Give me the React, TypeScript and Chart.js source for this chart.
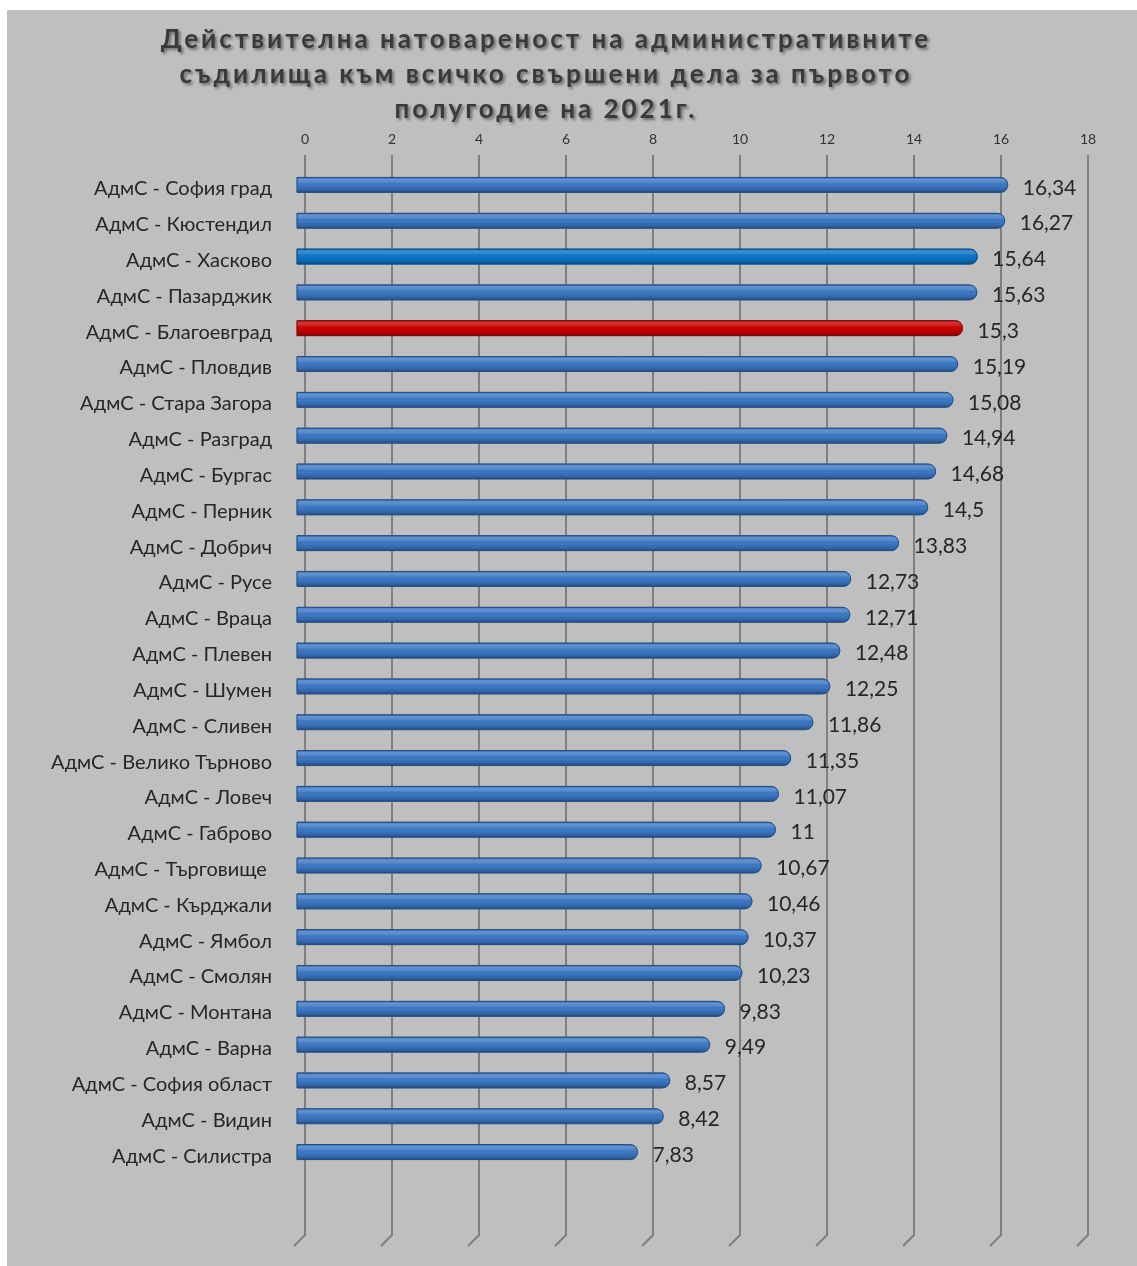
import React, { useEffect, useRef } from "react";
import { Chart, registerables } from "chart.js";

Chart.register(...registerables);

const categories: string[] = [
  "АдмС - София град",
  "АдмС - Кюстендил",
  "АдмС - Хасково",
  "АдмС - Пазарджик",
  "АдмС - Благоевград",
  "АдмС - Пловдив",
  "АдмС - Стара Загора",
  "АдмС - Разград",
  "АдмС - Бургас",
  "АдмС - Перник",
  "АдмС - Добрич",
  "АдмС - Русе",
  "АдмС - Враца",
  "АдмС - Плевен",
  "АдмС - Шумен",
  "АдмС - Сливен",
  "АдмС - Велико Търново",
  "АдмС - Ловеч",
  "АдмС - Габрово",
  "АдмС - Търговище ",
  "АдмС - Кърджали",
  "АдмС - Ямбол",
  "АдмС - Смолян",
  "АдмС - Монтана",
  "АдмС - Варна",
  "АдмС - София област",
  "АдмС - Видин",
  "АдмС - Силистра",
];

const values: number[] = [
  16.34, 16.27, 15.64, 15.63, 15.3, 15.19, 15.08, 14.94, 14.68, 14.5, 13.83,
  12.73, 12.71, 12.48, 12.25, 11.86, 11.35, 11.07, 11, 10.67, 10.46, 10.37,
  10.23, 9.83, 9.49, 8.57, 8.42, 7.83,
];

const axisMin = 0;
const axisMax = 18;
const axisStep = 2;

const titleLines: string[] = [
  "Действителна натовареност на административните",
  "съдилища към всичко свършени дела за първото",
  "полугодие на 2021г.",
];

const redCategory = "АдмС - Благоевград";
const brightCategory = "АдмС - Хасково";

const colorFor = (name: string) =>
  name === redCategory ? "#cc0000" : name === brightCategory ? "#0a74c8" : "#3b78c6";
const edgeFor = (name: string) =>
  name === redCategory ? "#7a1010" : name === brightCategory ? "#0c4a82" : "#294f80";

const DEPTH_X = 8;

const bar3dPlugin = {
  id: "bar3d",
  beforeDatasetsDraw(chart: any) {
    const { ctx, chartArea, scales } = chart;
    const x = scales.x;
    ctx.save();
    ctx.strokeStyle = "#7f7f7f";
    ctx.lineWidth = 2;
    x.ticks.forEach((t: any) => {
      const px = Math.round(x.getPixelForValue(t.value));
      ctx.beginPath();
      ctx.moveTo(px, chartArea.top - 12);
      ctx.lineTo(px, chartArea.bottom + 65);
      ctx.lineTo(px - 11, chartArea.bottom + 76);
      ctx.stroke();
    });
    ctx.restore();
    ctx.save();
    ctx.translate(-DEPTH_X, 0);
  },
  afterDatasetsDraw(chart: any) {
    const { ctx } = chart;
    const meta = chart.getDatasetMeta(0);
    meta.data.forEach((el: any, i: number) => {
      const { x, y, base, height } = el.getProps(["x", "y", "base", "height"], true);
      const left = Math.min(base, x);
      const w = Math.abs(x - base);
      const top = y - height / 2;
      const r = height / 2;
      const g = ctx.createLinearGradient(0, top, 0, top + height);
      g.addColorStop(0, "rgba(0,0,0,0.25)");
      g.addColorStop(0.12, "rgba(255,255,255,0.2)");
      g.addColorStop(0.3, "rgba(255,255,255,0.14)");
      g.addColorStop(0.55, "rgba(0,0,0,0)");
      g.addColorStop(0.85, "rgba(0,0,0,0.18)");
      g.addColorStop(1, "rgba(0,0,0,0.4)");
      ctx.save();
      ctx.beginPath();
      ctx.roundRect(left, top, w, height, [0, r, r, 0]);
      ctx.fillStyle = g;
      ctx.fill();
      ctx.lineWidth = 1;
      ctx.strokeStyle = edgeFor(categories[i]);
      ctx.stroke();
      ctx.restore();

      ctx.save();
      ctx.font = "21px Lato";
      ctx.fillStyle = "#262626";
      ctx.textAlign = "left";
      ctx.textBaseline = "middle";
      ctx.fillText(String(values[i]).replace(".", ","), x + 15, y + 3);
      ctx.restore();
    });
    ctx.restore();
  },
};

export default function App() {
  const canvasRef = useRef<HTMLCanvasElement | null>(null);

  useEffect(() => {
    const canvas = canvasRef.current;
    if (!canvas) return;
    const chart = new Chart(canvas, {
      type: "bar",
      data: {
        labels: categories,
        datasets: [
          {
            data: values,
            backgroundColor: categories.map(colorFor),
            borderWidth: 0,
            borderRadius: 8,
            borderSkipped: "start",
            barThickness: 15,
            clip: false as any,
          },
        ],
      },
      options: {
        indexAxis: "y",
        animation: false,
        responsive: false,
        devicePixelRatio: 1,
        layout: { padding: { left: 0, top: 0, right: 49, bottom: 96 } },
        plugins: {
          legend: { display: false },
          tooltip: { enabled: false },
          title: { display: false },
        },
        scales: {
          x: {
            position: "top",
            min: axisMin,
            max: axisMax,
            ticks: {
              stepSize: axisStep,
              color: "#333333",
              font: { family: "'Liberation Sans Narrow', Lato", size: 14 },
              padding: 19,
            },
            grid: { display: false, drawTicks: false },
            border: { display: false },
            afterFit: (s: any) => {
              s.height = 167;
            },
          },
          y: {
            ticks: {
              color: "#262626",
              font: { family: "Lato", size: 20 },
              padding: 33,
              labelOffset: 4,
              autoSkip: false,
            },
            grid: { display: false, drawTicks: false },
            border: { display: false },
            afterFit: (s: any) => {
              s.width = 305;
            },
          },
        },
      },
      plugins: [bar3dPlugin],
    });
    return () => chart.destroy();
  }, []);

  return (
    <div style={{ position: "absolute", left: 0, top: 0, width: 1137, height: 1266, overflow: "hidden" }}>
      <div
        style={{
          position: "absolute",
          left: 7,
          top: 10,
          right: 0,
          bottom: 0,
          background: "#bfbfbf",
        }}
      />
      <canvas
        ref={canvasRef}
        width={1137}
        height={1266}
        style={{ position: "absolute", left: 0, top: 0, width: 1137, height: 1266 }}
      />
      <div
        style={{
          position: "absolute",
          left: 0,
          top: 21,
          width: 1092,
          textAlign: "center",
          fontFamily: "Lato, sans-serif",
          fontWeight: 700,
          fontSize: 26,
          lineHeight: "35px",
          letterSpacing: 3,
          color: "#3a3a3a",
          textShadow: "2px 2px 3px rgba(0,0,0,0.45)",
        }}
      >
        {titleLines.map((l, i) => (
          <div key={i}>{l}</div>
        ))}
      </div>
    </div>
  );
}
